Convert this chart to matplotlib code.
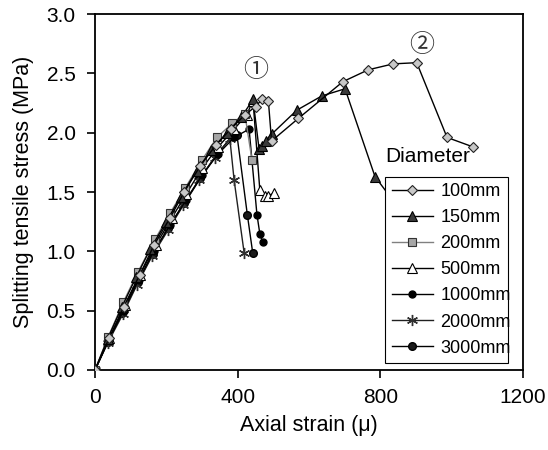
import numpy as np
import matplotlib.pyplot as plt

plt.rcParams['font.family'] = ['Liberation Sans', 'DejaVu Sans']

# axial strain (micro) and splitting tensile stress (MPa) per diameter
x100 = [0, 40, 80, 125, 165, 210, 250, 295, 340, 380, 420, 450, 468, 486, 495, 570, 695, 766, 836, 902, 987, 1060]
y100 = [0, 0.27, 0.53, 0.80, 1.05, 1.28, 1.50, 1.72, 1.90, 2.03, 2.15, 2.22, 2.28, 2.27, 1.93, 2.12, 2.43, 2.53, 2.58, 2.59, 1.96, 1.88]

x150 = [0, 35, 75, 115, 155, 200, 240, 285, 325, 370, 410, 443, 460, 468, 478, 496, 566, 636, 701, 785, 830]
y150 = [0, 0.26, 0.53, 0.78, 1.02, 1.25, 1.46, 1.68, 1.85, 2.00, 2.13, 2.28, 1.86, 1.89, 1.93, 1.99, 2.19, 2.31, 2.37, 1.63, 1.45]

x200 = [0, 37, 79, 121, 168, 210, 252, 300, 342, 385, 420, 440]
y200 = [0, 0.28, 0.57, 0.83, 1.10, 1.32, 1.53, 1.77, 1.96, 2.08, 2.16, 1.77]

x500 = [0, 40, 85, 125, 170, 215, 255, 300, 345, 390, 425, 443, 462, 476, 485, 502]
y500 = [0, 0.27, 0.55, 0.80, 1.05, 1.28, 1.48, 1.70, 1.88, 2.03, 2.15, 2.27, 1.52, 1.47, 1.47, 1.49]

x1000 = [0, 38, 80, 122, 165, 210, 255, 300, 345, 390, 432, 454, 462, 470]
y1000 = [0, 0.25, 0.50, 0.76, 1.00, 1.22, 1.43, 1.64, 1.82, 1.96, 2.03, 1.31, 1.15, 1.08]

x2000 = [0, 36, 78, 118, 160, 205, 248, 292, 335, 378, 390, 418]
y2000 = [0, 0.23, 0.47, 0.72, 0.96, 1.18, 1.39, 1.60, 1.79, 1.95, 1.60, 0.99]

x3000 = [0, 35, 77, 120, 162, 206, 250, 295, 340, 384, 398, 427, 442]
y3000 = [0, 0.24, 0.48, 0.74, 0.98, 1.20, 1.41, 1.62, 1.81, 1.97, 1.98, 1.31, 0.99]

labels = ['100mm', '150mm', '200mm', '500mm', '1000mm', '2000mm', '3000mm']

fig = plt.figure(figsize=(5.48, 4.5), dpi=100)
ax = fig.add_axes([0.1734, 0.1778, 0.781, 0.791])

lw = 1.0
ax.plot(x3000, y3000, color='black', lw=lw, marker='o', ms=5.5, mfc='#1a1a1a', mec='black', label=labels[6], zorder=2)
ax.plot(x2000, y2000, color='#202020', lw=lw, marker=(6, 2, 0), ms=8, mec='#303030', mew=1.0, label=labels[5], zorder=2)
ax.plot(x1000, y1000, color='black', lw=lw, marker='o', ms=5, mfc='black', mec='black', label=labels[4], zorder=3)
ax.plot(x500, y500, color='black', lw=lw, marker='^', ms=7, mfc='white', mec='black', mew=0.8, label=labels[3], zorder=3)
ax.plot(x200, y200, color='#808080', lw=lw, marker='s', ms=6, mfc='#a6a6a6', mec='#333333', mew=0.8, label=labels[2], zorder=4)
ax.plot(x150, y150, color='black', lw=lw, marker='^', ms=7, mfc='#3a3a3a', mec='black', mew=0.8, label=labels[1], zorder=4)
ax.plot(x100, y100, color='black', lw=lw, marker='D', ms=5.5, mfc='#c8c8c8', mec='#222222', mew=0.8, label=labels[0], zorder=5)

ax.set_xlim(0, 1200)
ax.set_ylim(0, 3.0)
ax.set_xticks([0, 400, 800, 1200])
ax.set_yticks(np.arange(0, 3.01, 0.5))
ax.yaxis.set_major_formatter(plt.FormatStrFormatter('%.1f'))
ax.tick_params(direction='out', length=6, width=1.2, labelsize=15, top=False, right=False)
ax.tick_params(axis='x', pad=7)
ax.tick_params(axis='y', pad=8)
for s in ax.spines.values():
    s.set_linewidth(1.3)

ax.set_xlabel('Axial strain (\u03bc)', fontsize=15.5, labelpad=6)
ax.set_ylabel('Splitting tensile stress (MPa)', fontsize=15.5, labelpad=9)

handles, labs = ax.get_legend_handles_labels()
order = [labs.index(l) for l in labels]
leg = ax.legend([handles[i] for i in order], [labs[i] for i in order],
                loc='lower left', bbox_to_anchor=(0.678, 0.02, 0.287, 0.533), mode='expand',
                fontsize=13, frameon=True, fancybox=False, edgecolor='black', framealpha=1,
                handlelength=2.3, handletextpad=0.4, labelspacing=0.5, borderaxespad=0,
                borderpad=0.35)
leg.get_frame().set_linewidth(0.8)
leg.set_zorder(10)

ax.text(0.678, 0.573, 'Diameter', transform=ax.transAxes, fontsize=15, va='bottom', ha='left', zorder=11)

circ = ['Noto Sans CJK JP', 'DejaVu Sans']
ax.text(449, 2.53, '\u2460', fontsize=18, ha='center', va='center', family=circ, color='#333333')
ax.text(917, 2.74, '\u2461', fontsize=18, ha='center', va='center', family=circ, color='#333333')

fig.savefig('out.png', dpi=100)
